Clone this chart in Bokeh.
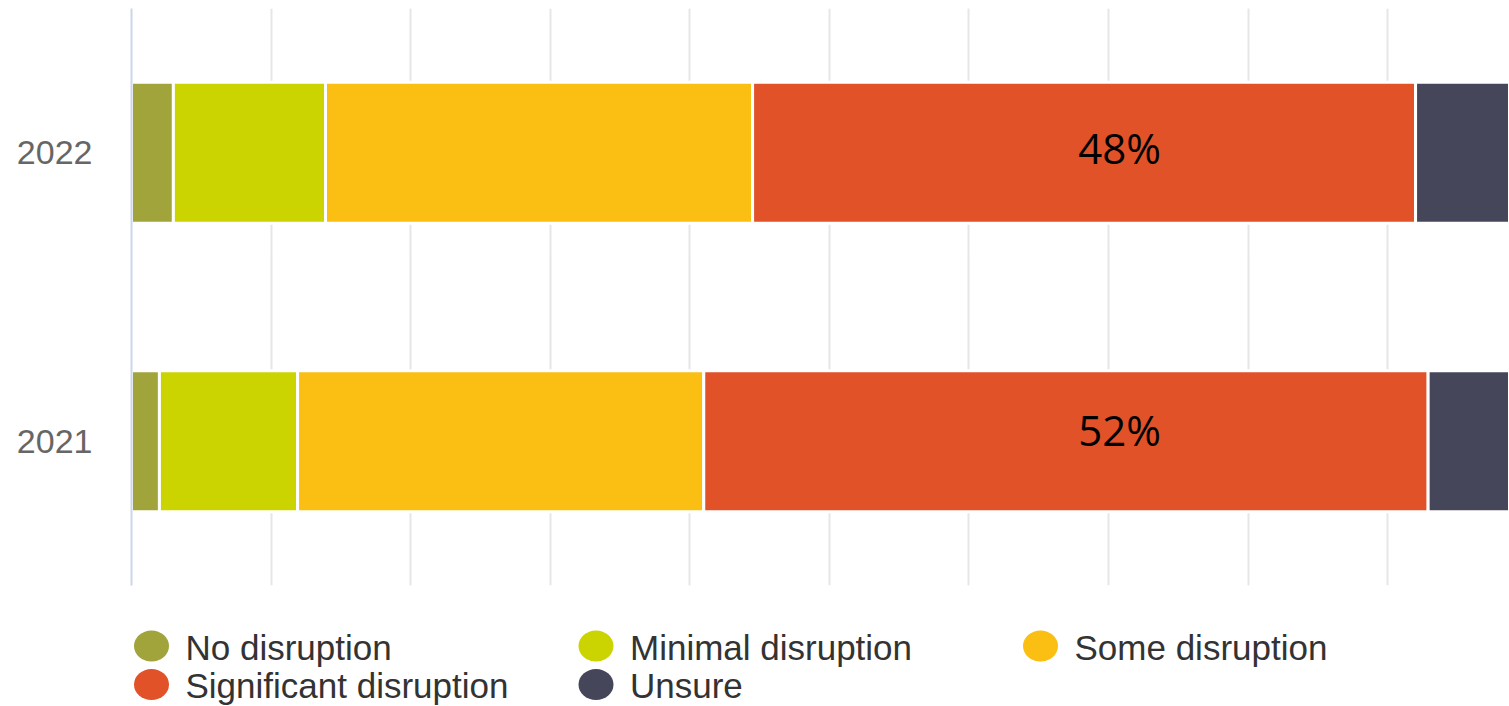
from bokeh.plotting import figure
from bokeh.models import (ColumnDataSource, FactorRange, Range1d, Grid,
                          SingleIntervalTicker)
from bokeh.layouts import column
from bokeh.core.properties import value
from bokeh.embed import file_html
from bokeh.resources import INLINE

# ---- data ----
YEARS = ["2021", "2022"]
CATEGORIES = ["No disruption", "Minimal disruption", "Some disruption",
              "Significant disruption", "Unsure"]
NO_DISRUPTION = [2.0, 3.0]
MINIMAL = [9.9, 10.9]
SOME = [29.1, 30.6]
SIGNIFICANT = [51.9, 47.5]
UNSURE = [7.1, 8.0]
LABELS = ["52%", "48%"]
COLORS = ["#A0A43A", "#CBD400", "#FBBE12", "#E15229", "#46465A"]

series = [NO_DISRUPTION, MINIMAL, SOME, SIGNIFICANT, UNSURE]
data = {"year": YEARS}
for name, vals in zip(CATEGORIES, series):
    data[name] = vals
source = ColumnDataSource(data)

# ---- main chart ----
p = figure(width=1509, height=600, output_backend="svg", toolbar_location=None,
           y_range=FactorRange(factors=YEARS), x_range=Range1d(0, 98.73),
           x_axis_location=None, min_border_left=131, min_border_right=0,
           min_border_top=8, min_border_bottom=15)
p.outline_line_color = None
p.background_fill_color = "white"
p.border_fill_color = "white"

p.add_layout(Grid(dimension=0, ticker=SingleIntervalTicker(interval=10, num_minor_ticks=0),
                  grid_line_color="#e6e6e6", grid_line_width=2))
p.ygrid.grid_line_color = None

p.hbar_stack(CATEGORIES, y="year", height=0.489, color=COLORS, source=source,
             line_color="white", line_width=3)

yax = p.yaxis[0]
yax.axis_line_color = "#ccd6eb"
yax.axis_line_width = 2
yax.major_tick_line_color = None
yax.minor_tick_line_color = None
yax.major_label_standoff = 33
yax.major_label_text_font = "Liberation Sans"
yax.major_label_text_font_size = "34px"
yax.major_label_text_color = "#666666"

LABEL_X = 70.8
lab_src = ColumnDataSource({"year": YEARS, "label": LABELS,
                            "x": [LABEL_X] * len(YEARS), "dy": [-12, -5]})
p.text(x="x", y="year", text="label", y_offset="dy", source=lab_src,
       text_font=value("Open Sans"), text_font_size="42px", text_color="black",
       text_align="center", text_baseline="middle")

# ---- legend panel (coordinates in page pixels) ----
lg = figure(width=1509, height=106, output_backend="svg", toolbar_location=None,
            x_range=Range1d(131, 1509), y_range=Range1d(106, 0),
            x_axis_location=None, y_axis_location=None,
            min_border_left=131, min_border_right=0, min_border_top=0, min_border_bottom=0)
lg.outline_line_color = None
lg.xgrid.visible = False
lg.ygrid.visible = False

cx = [151 + (i % 3) * 444.5 for i in range(len(CATEGORIES))]
cy = [45.5 + (i // 3) * 38.5 for i in range(len(CATEGORIES))]
leg_src = ColumnDataSource({"cx": cx, "cy": cy, "tx": [c + 34 for c in cx],
                            "ty": [c + 1 for c in cy], "name": CATEGORIES,
                            "color": COLORS})
lg.ellipse(x="cx", y="cy", width=35, height=31, fill_color="color",
           line_color=None, source=leg_src)
lg.text(x="tx", y="ty", text="name", source=leg_src,
        text_font=value("Liberation Sans"), text_font_size="35px",
        text_color="#333333", text_align="left", text_baseline="middle")

layout = column(p, lg, spacing=0)
open("out.html", "w").write(file_html(layout, INLINE))
